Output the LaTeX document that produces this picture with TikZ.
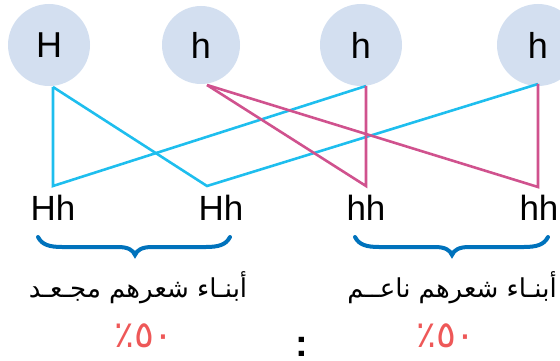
\documentclass[tikz,border=0pt]{standalone}
\usepackage{fontspec}
\setmainfont{Liberation Sans}
\newfontfamily\arabicfont[Script=Arabic]{DejaVu Sans}
\TeXXeTstate=1
\definecolor{ballfill}{RGB}{211,223,240}
\definecolor{cyanline}{RGB}{30,190,238}
\definecolor{pinkline}{RGB}{208,82,142}
\definecolor{bracecol}{RGB}{0,114,188}
\definecolor{pctred}{RGB}{238,88,88}
\tikzset{
  allele/.style={circle, fill=ballfill, minimum size=82pt, inner sep=0pt, font=\fontsize{36}{40}\selectfont},
  geno/.style={font=\fontsize{35}{40}\selectfont, inner sep=0pt},
  dom/.style={cyanline, line width=2.6pt},
  rec/.style={pinkline, line width=2.6pt},
  curly/.style={bracecol, line width=4pt, line cap=round},
  label/.style={font=\arabicfont\fontsize{26}{30}\selectfont, inner sep=0pt},
  pct/.style={font=\arabicfont\fontsize{37}{40}\selectfont, text=pctred, inner sep=0pt},
}
\begin{document}
\begin{tikzpicture}[x=1pt, y=-1pt]
\useasboundingbox (0,0) rectangle (560,361);
% parent alleles
\node[allele] (p1) at (49,45) {H};
\node[allele, minimum size=78pt] (p2) at (201,45) {h};
\node[allele] (p3) at (361,45) {h};
\node[allele] (p4) at (538,45) {h};
% top and bottom points of the crossing lines
\coordinate (t1) at (53,87);
\coordinate (t2) at (207,85);
\coordinate (t3) at (366,86);
\coordinate (t4) at (538,84);
\coordinate (b1) at (53,186);
\coordinate (b2) at (207,186);
\coordinate (b3) at (366,186);
\coordinate (b4) at (538,187);
% dominant allele lines
\draw[dom] (t1) -- (b1) -- (t3);
\draw[dom] (t1) -- (b2) -- (t4);
% recessive allele lines
\draw[rec] (t2) -- (b3) -- (t3);
\draw[rec] (t2) -- (b4) -- (t4);
% offspring genotypes
\node[geno] (g1) at (53,208) {Hh};
\node[geno] (g2) at (221,208) {Hh};
\node[geno] (g3) at (366,208) {hh};
\node[geno] (g4) at (539,208) {hh};
% braces
\draw[curly] (38,237) .. controls (42,245) and (50,247) .. (62,247)
  -- (118,247) .. controls (128,247) and (133,250) .. (135,255)
  .. controls (137,250) and (142,247) .. (152,247)
  -- (206,247) .. controls (218,247) and (226,245) .. (230,237);
\draw[curly] (355,237) .. controls (359,245) and (367,247) .. (379,247)
  -- (435,247) .. controls (445,247) and (450,250) .. (452,255)
  .. controls (454,250) and (459,247) .. (469,247)
  -- (524,247) .. controls (536,247) and (544,245) .. (548,237);
% phenotype labels
\node[label] (l1) at (138,288) {\beginR أبنـاء شعرهم مجـعـد\endR};
\node[label] (l2) at (452,288) {\beginR أبنـاء شعرهم ناعــم\endR};
% ratios
\node[pct] (r1) at (144,336) {\beginR ٥٠٪\endR};
\node[pct] (r2) at (446,336) {\beginR ٥٠٪\endR};
\node[font=\bfseries\fontsize{38}{40}\selectfont, inner sep=0pt, anchor=base] (sep) at (302,356) {:};
\end{tikzpicture}
\end{document}
